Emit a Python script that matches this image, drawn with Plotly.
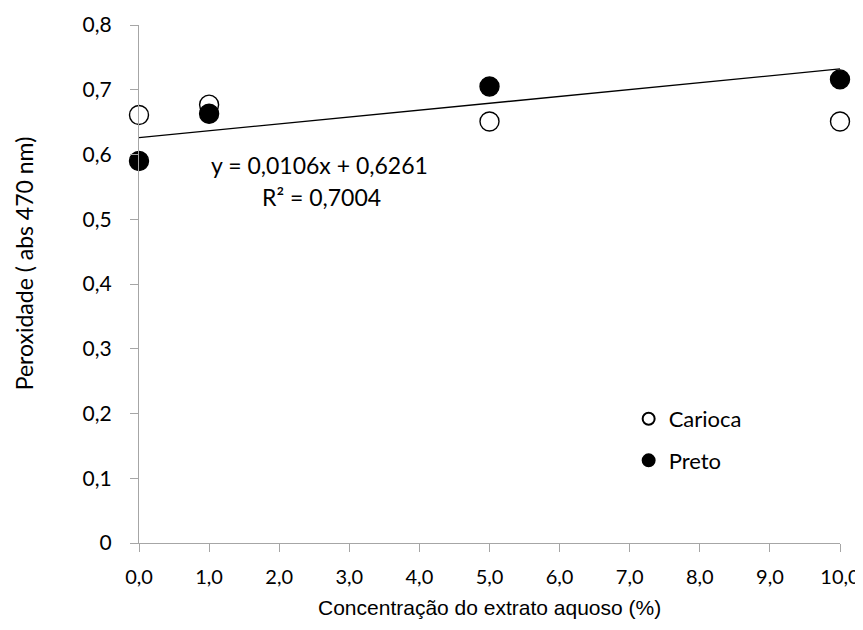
import plotly.graph_objects as go

# Data
conc = [0, 1, 5, 10]
carioca = [0.661, 0.677, 0.651, 0.651]
preto = [0.590, 0.663, 0.705, 0.716]

# Trendline coefficients shown on the chart (fit of Preto)
slope = 0.0106
intercept = 0.6261
eq_text = "y = 0,0106x + 0,6261"
r2_text = "R² = 0,7004"

x_tickvals = [0, 1, 2, 3, 4, 5, 6, 7, 8, 9, 10]
x_ticktext = ["0,0", "1,0", "2,0", "3,0", "4,0", "5,0", "6,0", "7,0", "8,0", "9,0", "10,0"]
y_tickvals = [0, 0.1, 0.2, 0.3, 0.4, 0.5, 0.6, 0.7, 0.8]
y_ticktext = ["0", "0,1", "0,2", "0,3", "0,4", "0,5", "0,6", "0,7", "0,8"]

x_title = "Concentração do extrato aquoso (%)"
y_title = "Peroxidade ( abs 470 nm)"

FONT = "Lato, 'Open Sans', sans-serif"
FONT_X = "'Liberation Sans', Arial, sans-serif"
AXIS_COLOR = "#a6a6a6"

fig = go.Figure()

fit_x = [min(conc), max(conc)]
fit_y = [intercept + slope * v for v in fit_x]
fig.add_trace(go.Scatter(x=fit_x, y=fit_y, mode="lines",
                         line=dict(color="black", width=1.3),
                         showlegend=False, hoverinfo="skip", cliponaxis=False))

fig.add_trace(go.Scatter(x=conc, y=carioca, mode="markers", name="Carioca",
                         legendgroup="a",
                         marker=dict(size=19, color="white", symbol="circle",
                                     line=dict(color="black", width=1.4)),
                         cliponaxis=False))
fig.add_trace(go.Scatter(x=conc, y=preto, mode="markers", name="Preto",
                         legendgroup="b",
                         marker=dict(size=19, color="black", symbol="circle",
                                     line=dict(color="black", width=1.4)),
                         cliponaxis=False))

fig.add_annotation(x=0.258, y=0.73, xref="paper", yref="paper", text=eq_text,
                   showarrow=False, font=dict(family=FONT, size=23, color="black"),
                   xanchor="center", yanchor="middle")
fig.add_annotation(x=0.261, y=0.668, xref="paper", yref="paper", text=r2_text,
                   showarrow=False, font=dict(family=FONT, size=23, color="black"),
                   xanchor="center", yanchor="middle")

fig.add_annotation(x=(24 - 139) / 701, y=0.54, xref="paper", yref="paper",
                   text=y_title, textangle=-90, showarrow=False,
                   font=dict(family=FONT, size=23, color="black"),
                   xanchor="center", yanchor="middle")
fig.add_annotation(x=0.5, y=-0.1236, xref="paper", yref="paper",
                   text=x_title, showarrow=False,
                   font=dict(family=FONT_X, size=21, color="black"),
                   xanchor="center", yanchor="middle")

# The page body adds an 8 px offset; size the figure so the plot area lands
# at the same page pixels as the reference (x 139..840, y 25..543).
fig.update_layout(
    width=855, height=622,
    margin=dict(l=131, r=23, t=17, b=87, autoexpand=False),
    paper_bgcolor="white", plot_bgcolor="white",
    font=dict(family=FONT, size=20, color="black"),
    showlegend=True,
    legend=dict(x=0.6985, y=0.28, xanchor="left", yanchor="top",
                bgcolor="rgba(0,0,0,0)", font=dict(family=FONT, size=22),
                tracegroupgap=10, itemsizing="constant"),
    xaxis=dict(range=[0, 10], tickvals=x_tickvals, ticktext=x_ticktext,
               showgrid=False, zeroline=False, showline=True, automargin=False,
               linecolor=AXIS_COLOR, linewidth=1.3,
               ticks="outside", ticklen=8, tickcolor=AXIS_COLOR, tickwidth=1.3,
               ticklabelstandoff=8,
               tickfont=dict(family=FONT, size=20, color="black")),
    yaxis=dict(range=[0, 0.8], tickvals=y_tickvals, ticktext=y_ticktext,
               showgrid=False, zeroline=False, showline=True, automargin=False,
               linecolor=AXIS_COLOR, linewidth=1.3,
               ticks="outside", ticklen=8, tickcolor=AXIS_COLOR, tickwidth=1.3,
               ticklabelstandoff=14,
               tickfont=dict(family=FONT, size=21, color="black")),
)

fig.write_html("out.html")
